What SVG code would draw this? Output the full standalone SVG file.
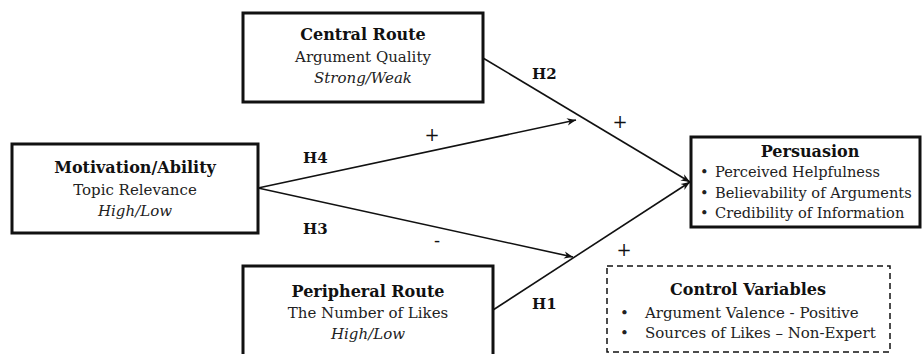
<svg xmlns="http://www.w3.org/2000/svg" width="923" height="354" viewBox="0 0 923 354">
<style>
text{font-family:"DejaVu Serif","Liberation Serif",serif;font-size:15px;fill:#222}
.b{font-weight:bold;fill:#111;font-size:16px}
.i{font-style:italic}
.c{text-anchor:middle}
.p{font-size:14.6px}
.box{fill:#fff;stroke:#111;stroke-width:3}
.dash{fill:#fff;stroke:#111;stroke-width:1.5;stroke-dasharray:6,4}
.ln{stroke:#111;stroke-width:1.6;fill:none;marker-end:url(#ah)}
.lbl{font-weight:bold;fill:#111;font-size:15px}
.sg{font-size:18px;fill:#111}
</style>
<defs>
<marker id="ah" viewBox="0 0 10 10" refX="10" refY="5" markerWidth="9" markerHeight="9" orient="auto" markerUnits="userSpaceOnUse">
<path d="M0,1 L10,5 L0,9 L3,5 Z" fill="#111"/>
</marker>
</defs>
<g id="connectors">
<line class="ln" x1="258" y1="188" x2="576" y2="120"/>
<line class="ln" x1="258" y1="188" x2="573" y2="257"/>
<line class="ln" x1="483" y1="58" x2="690" y2="182"/>
<line class="ln" x1="493" y1="310" x2="690" y2="182"/>
<text class="lbl" x="532" y="79">H2</text>
<text class="sg c" x="620" y="128">+</text>
<text class="lbl" x="303" y="163">H4</text>
<text class="sg c" x="432" y="141">+</text>
<text class="lbl" x="303" y="234">H3</text>
<text class="sg c" x="437" y="247">-</text>
<text class="sg c" x="624" y="256">+</text>
<text class="lbl" x="532" y="309">H1</text>
</g>
<g id="central">
<rect class="box" x="243" y="13" width="240" height="89"/>
<text class="b c" x="363" y="40">Central Route</text>
<text class="c" x="363" y="62">Argument Quality</text>
<text class="i c" x="363" y="83">Strong/Weak</text>
</g>
<g id="motivation">
<rect class="box" x="12" y="144" width="246" height="89"/>
<text class="b c" x="135" y="173">Motivation/Ability</text>
<text class="c" x="135" y="195">Topic Relevance</text>
<text class="i c" x="135" y="216">High/Low</text>
</g>
<g id="persuasion">
<rect class="box" x="691" y="137" width="229" height="90"/>
<text class="b c" x="810" y="157">Persuasion</text>
<text class="p" x="700" y="177">•</text><text class="p" x="715" y="177">Perceived Helpfulness</text>
<text class="p" x="700" y="198">•</text><text class="p" x="715" y="198">Believability of Arguments</text>
<text class="p" x="700" y="218">•</text><text class="p" x="715" y="218">Credibility of Information</text>
</g>
<g id="peripheral">
<rect class="box" x="243" y="266" width="250" height="100"/>
<text class="b c" x="368" y="297">Peripheral Route</text>
<text class="c" x="368" y="318">The Number of Likes</text>
<text class="i c" x="368" y="339">High/Low</text>
</g>
<g id="control">
<rect class="dash" x="607" y="266" width="283" height="86"/>
<text class="b c" x="748" y="295">Control Variables</text>
<text x="620" y="318">•</text><text x="645" y="318">Argument Valence - Positive</text>
<text x="620" y="338">•</text><text x="645" y="338">Sources of Likes – Non-Expert</text>
</g>
</svg>
